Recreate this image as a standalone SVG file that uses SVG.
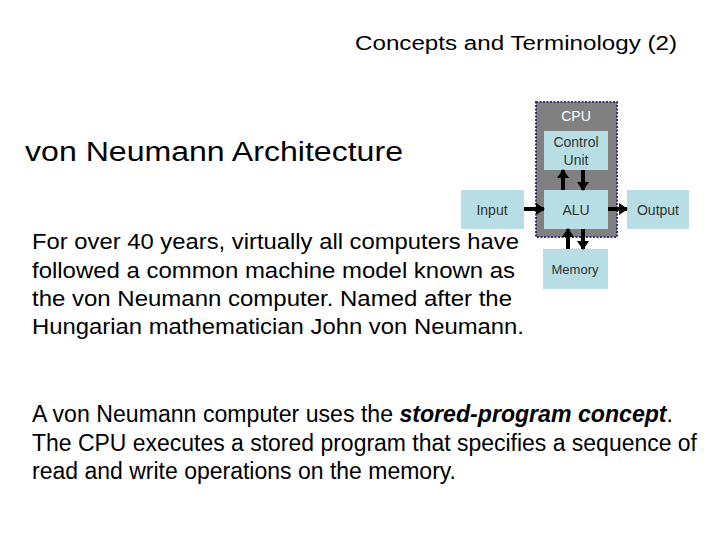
<svg xmlns="http://www.w3.org/2000/svg" width="720" height="540" viewBox="0 0 720 540">
<defs>
<marker id="ah" viewBox="0 0 10 10" refX="9" refY="5" markerWidth="2.2" markerHeight="3" preserveAspectRatio="none" orient="auto" markerUnits="strokeWidth">
<path d="M0,0 L10,5 L0,10 z" fill="#000"/>
</marker>
<style>
text{font-family:"Liberation Sans",Arial,sans-serif;fill:#000}
.box{fill:#b7dee4}
.lbl{font-size:14px;text-anchor:middle;fill:#333}
.conn line{stroke:#000;stroke-width:4;marker-end:url(#ah)}
.body text{font-size:22px}
</style>
</defs>
<rect width="720" height="540" fill="#fff"/>
<text x="355" y="50" font-size="20" textLength="322" lengthAdjust="spacingAndGlyphs">Concepts and Terminology (2)</text>
<text x="25" y="161" font-size="27" textLength="378" lengthAdjust="spacingAndGlyphs">von Neumann Architecture</text>
<g class="body">
<text x="32" y="249" textLength="487" lengthAdjust="spacingAndGlyphs">For over 40 years, virtually all computers have</text>
<text x="32" y="278" textLength="483" lengthAdjust="spacingAndGlyphs">followed a common machine model known as</text>
<text x="32" y="306" textLength="480" lengthAdjust="spacingAndGlyphs">the von Neumann computer. Named after the</text>
<text x="32" y="334" textLength="492" lengthAdjust="spacingAndGlyphs">Hungarian mathematician John von Neumann.</text>
</g>
<g font-size="23">
<text x="32" y="422" textLength="641" lengthAdjust="spacingAndGlyphs">A von Neumann computer uses the <tspan font-weight="bold" font-style="italic">stored-program concept</tspan>.</text>
<text x="32" y="451" textLength="665" lengthAdjust="spacingAndGlyphs">The CPU executes a stored program that specifies a sequence of</text>
<text x="32" y="479" textLength="424" lengthAdjust="spacingAndGlyphs">read and write operations on the memory.</text>
</g>
<g id="cpu">
<rect x="536" y="102" width="81" height="135" fill="#808080" stroke="#333377" stroke-width="2" stroke-dasharray="2,1.5"/>
<text x="576" y="121" font-size="14" text-anchor="middle" style="fill:#fff">CPU</text>
</g>
<g id="control-unit">
<rect class="box" x="544" y="131" width="64" height="39"/>
<text class="lbl" x="576" y="147">Control</text>
<text class="lbl" x="576" y="165">Unit</text>
</g>
<g id="alu">
<rect class="box" x="544" y="190" width="64" height="39"/>
<text class="lbl" x="576" y="215">ALU</text>
</g>
<g id="input">
<rect class="box" x="461" y="190" width="63" height="39"/>
<text class="lbl" x="492" y="215">Input</text>
</g>
<g id="output">
<rect class="box" x="627" y="190" width="62" height="39"/>
<text class="lbl" x="658" y="215">Output</text>
</g>
<g id="memory">
<rect class="box" x="543" y="249" width="65" height="40"/>
<text class="lbl" x="575" y="274" style="font-size:13px">Memory</text>
</g>
<g class="conn">
<line x1="563" y1="190" x2="563" y2="170"/>
<line x1="583" y1="170" x2="583" y2="190"/>
<line x1="524" y1="209" x2="544" y2="209"/>
<line x1="608" y1="209" x2="627" y2="209"/>
<line x1="568" y1="249" x2="568" y2="229"/>
<line x1="583" y1="229" x2="583" y2="249"/>
</g>
</svg>
